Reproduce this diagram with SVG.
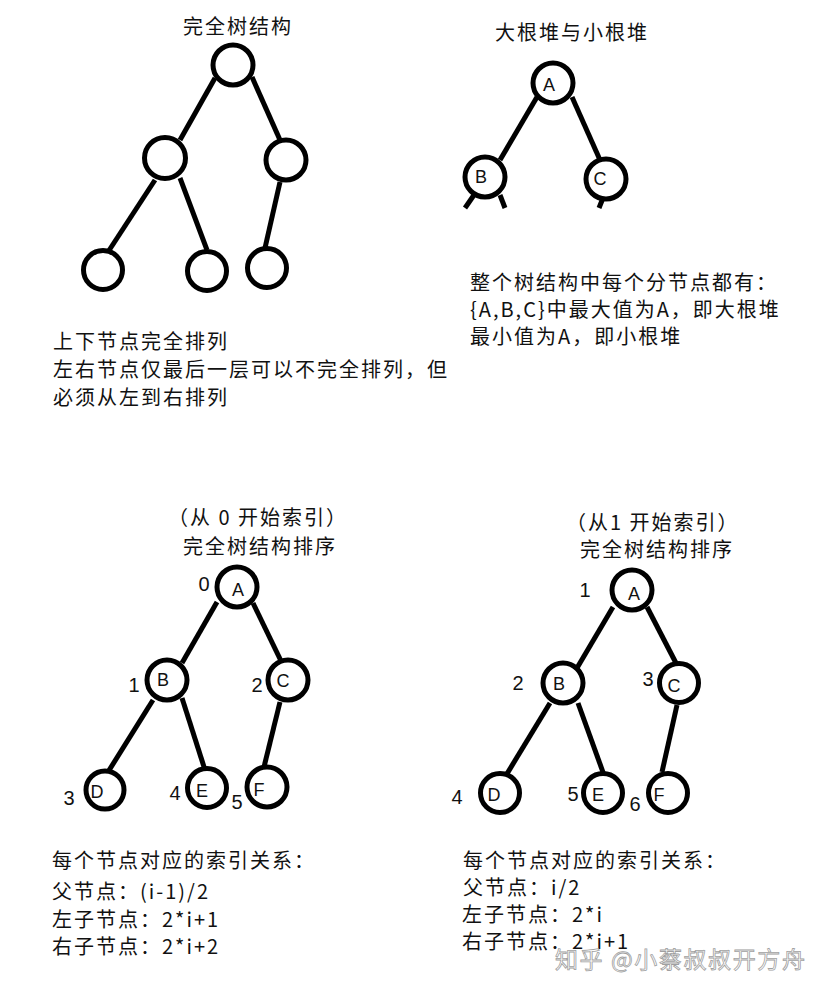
<svg xmlns="http://www.w3.org/2000/svg" width="825" height="993" viewBox="0 0 825 993">
<style>
.cjk{font-family:"Noto Sans CJK SC","Noto Sans",sans-serif;font-size:20px;fill:#111;letter-spacing:2px}
.node circle{fill:#fff;stroke:#000;stroke-width:5}
.lbl{font-family:"Liberation Sans",Arial,sans-serif;font-size:18px;fill:#111;text-anchor:middle}
.idx{font-family:"Liberation Sans",Arial,sans-serif;font-size:20px;fill:#111;text-anchor:middle}
.edges line{stroke:#000;stroke-width:5;stroke-linecap:butt}
.wm{font-family:"Noto Sans CJK SC",sans-serif;font-size:23px;fill:#fff;stroke:#a0a0a0;stroke-width:0.8;letter-spacing:1.6px}
</style>
<rect width="825" height="993" fill="#fff"/>

<!-- titles and notes -->
<text class="cjk" x="183" y="34">完全树结构</text>
<text class="cjk" x="495" y="40">大根堆与小根堆</text>
<text class="cjk" x="470" y="290">整个树结构中每个分节点都有：</text>
<text class="cjk" x="470" y="317">{A,B,C}中最大值为A，即大根堆</text>
<text class="cjk" x="470" y="344">最小值为A，即小根堆</text>
<text class="cjk" x="53" y="349">上下节点完全排列</text>
<text class="cjk" x="53" y="377">左右节点仅最后一层可以不完全排列，但</text>
<text class="cjk" x="53" y="405">必须从左到右排列</text>

<text class="cjk" x="168" y="525">（从 0 开始索引）</text>
<text class="cjk" x="183" y="554">完全树结构排序</text>
<text class="cjk" x="566" y="530">（从1 开始索引）</text>
<text class="cjk" x="580" y="557">完全树结构排序</text>

<text class="cjk" x="52" y="868">每个节点对应的索引关系：</text>
<text class="cjk" x="52" y="899">父节点：(i-1)/2</text>
<text class="cjk" x="52" y="927">左子节点：2*i+1</text>
<text class="cjk" x="52" y="954">右子节点：2*i+2</text>

<text class="cjk" x="463" y="868">每个节点对应的索引关系：</text>
<text class="cjk" x="463" y="895">父节点：i/2</text>
<text class="cjk" x="462" y="922">左子节点：2*i</text>
<text class="cjk" x="462" y="949">右子节点：2*i+1</text>

<!-- connectors -->
<g id="connectors" class="edges">
  <line x1="215" y1="78" x2="180" y2="140"/>
  <line x1="252" y1="77" x2="280" y2="140"/>
  <line x1="155" y1="180" x2="108" y2="252"/>
  <line x1="180" y1="178" x2="207" y2="250"/>
  <line x1="280" y1="182" x2="265" y2="248"/>

  <line x1="537" y1="97" x2="500" y2="160"/>
  <line x1="572" y1="97" x2="600" y2="160"/>
  <line x1="474" y1="195" x2="465" y2="208"/>
  <line x1="500" y1="195" x2="505" y2="208"/>
  <line x1="603" y1="198" x2="599" y2="208"/>

  <line x1="217" y1="602" x2="182" y2="663"/>
  <line x1="253" y1="603" x2="282" y2="663"/>
  <line x1="153" y1="700" x2="108" y2="772"/>
  <line x1="182" y1="698" x2="205" y2="770"/>
  <line x1="280" y1="702" x2="264" y2="767"/>

  <line x1="613" y1="607" x2="577" y2="668"/>
  <line x1="647" y1="607" x2="677" y2="665"/>
  <line x1="550" y1="703" x2="505" y2="777"/>
  <line x1="578" y1="703" x2="604" y2="775"/>
  <line x1="677" y1="705" x2="662" y2="772"/>
</g>

<!-- top-left complete tree -->
<g id="tl-root" class="node"><circle cx="233" cy="65" r="20"/></g>
<g id="tl-left" class="node"><circle cx="165" cy="158" r="20.5"/></g>
<g id="tl-right" class="node"><circle cx="286" cy="160" r="20"/></g>
<g id="tl-ll" class="node"><circle cx="103" cy="270" r="19.5"/></g>
<g id="tl-lr" class="node"><circle cx="207" cy="271" r="19.5"/></g>
<g id="tl-rl" class="node"><circle cx="267" cy="268" r="19.5"/></g>

<!-- top-right heap -->
<g id="tr-A" class="node"><circle cx="553" cy="83" r="20"/><text class="lbl" x="549" y="91">A</text></g>
<g id="tr-B" class="node"><circle cx="485" cy="177" r="20"/><text class="lbl" x="481" y="183">B</text></g>
<g id="tr-C" class="node"><circle cx="606" cy="179" r="20"/><text class="lbl" x="600" y="185">C</text></g>

<!-- bottom-left: index from 0 -->
<g id="bl-A" class="node"><circle cx="237" cy="587" r="20"/><text class="lbl" x="238" y="596">A</text><text class="idx" x="204" y="591">0</text></g>
<g id="bl-B" class="node"><circle cx="167" cy="680" r="20"/><text class="lbl" x="163" y="686">B</text><text class="idx" x="134" y="692">1</text></g>
<g id="bl-C" class="node"><circle cx="288" cy="680" r="20"/><text class="lbl" x="283" y="687">C</text><text class="idx" x="257" y="692">2</text></g>
<g id="bl-D" class="node"><circle cx="105" cy="790" r="19"/><text class="lbl" x="97" y="798">D</text><text class="idx" x="69" y="805">3</text></g>
<g id="bl-E" class="node"><circle cx="207" cy="788" r="19.5"/><text class="lbl" x="202" y="797">E</text><text class="idx" x="175" y="800">4</text></g>
<g id="bl-F" class="node"><circle cx="267" cy="787" r="20"/><text class="lbl" x="259" y="796">F</text><text class="idx" x="237" y="809">5</text></g>

<!-- bottom-right: index from 1 -->
<g id="br-A" class="node"><circle cx="632" cy="590" r="20"/><text class="lbl" x="634" y="600">A</text><text class="idx" x="585" y="597">1</text></g>
<g id="br-B" class="node"><circle cx="563" cy="683" r="20"/><text class="lbl" x="559" y="690">B</text><text class="idx" x="518" y="690">2</text></g>
<g id="br-C" class="node"><circle cx="679" cy="683" r="19.5"/><text class="lbl" x="674" y="692">C</text><text class="idx" x="648" y="686">3</text></g>
<g id="br-D" class="node"><circle cx="500" cy="793" r="19.5"/><text class="lbl" x="494" y="801">D</text><text class="idx" x="457" y="804">4</text></g>
<g id="br-E" class="node"><circle cx="603" cy="793" r="19.5"/><text class="lbl" x="598" y="801">E</text><text class="idx" x="573" y="801">5</text></g>
<g id="br-F" class="node"><circle cx="668" cy="793" r="19.5"/><text class="lbl" x="659" y="801">F</text><text class="idx" x="635" y="811">6</text></g>

<!-- watermark -->
<text class="wm" x="555" y="968">知乎 @小蔡叔叔开方舟</text>
</svg>
